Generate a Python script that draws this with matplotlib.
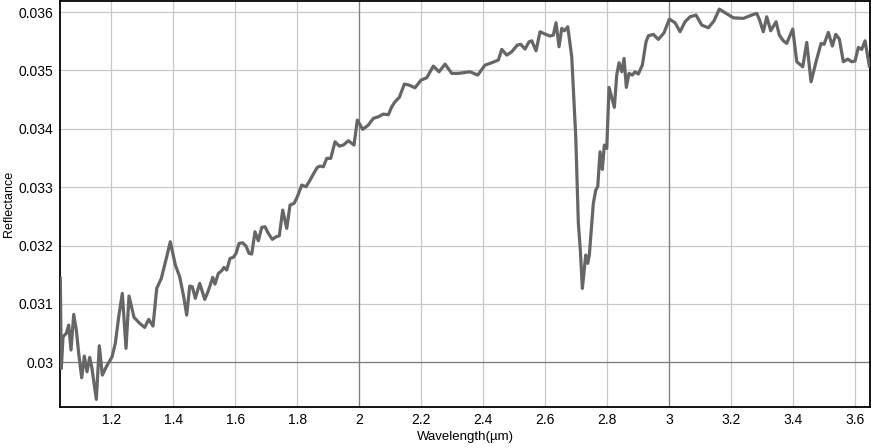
import matplotlib.pyplot as plt
from matplotlib.ticker import MultipleLocator, FuncFormatter

# spectre de réflectance
wavelength = [
    1.0355, 1.0387, 1.0442, 1.0548, 1.0626, 1.0700, 1.0787, 1.0871, 1.0948, 1.1045,
    1.1129, 1.1216, 1.1303, 1.1368, 1.1442, 1.1516, 1.1613, 1.1710, 1.1839, 1.2023,
    1.2129, 1.2239, 1.2355, 1.2474, 1.2571, 1.2732, 1.2916, 1.3077, 1.3206, 1.3345,
    1.3465, 1.3613, 1.3774, 1.3903, 1.4065, 1.4206, 1.4335, 1.4432, 1.4529, 1.4613,
    1.4710, 1.4852, 1.5013, 1.5097, 1.5184, 1.5271, 1.5345, 1.5452, 1.5561, 1.5635,
    1.5723, 1.5829, 1.5935, 1.6023, 1.6119, 1.6239, 1.6345, 1.6442, 1.6529, 1.6635,
    1.6742, 1.6852, 1.6958, 1.7065, 1.7194, 1.7313, 1.7419, 1.7529, 1.7658, 1.7765,
    1.7894, 1.8000, 1.8142, 1.8281, 1.8410, 1.8516, 1.8645, 1.8732, 1.8839, 1.8948,
    1.9077, 1.9216, 1.9355, 1.9484, 1.9645, 1.9829, 1.9935, 2.0110, 2.0290, 2.0452,
    2.0613, 2.0774, 2.0935, 2.1045, 2.1152, 2.1290, 2.1452, 2.1603, 2.1797, 2.1990,
    2.2174, 2.2387, 2.2571, 2.2765, 2.2981, 2.3194, 2.3571, 2.3819, 2.4055, 2.4271,
    2.4484, 2.4594, 2.4755, 2.4916, 2.5097, 2.5206, 2.5345, 2.5474, 2.5561, 2.5700,
    2.5829, 2.5990, 2.6152, 2.6258, 2.6345, 2.6442, 2.6529, 2.6613, 2.6723, 2.6852,
    2.6981, 2.7065, 2.7129, 2.7194, 2.7303, 2.7368, 2.7419, 2.7548, 2.7626, 2.7690,
    2.7765, 2.7839, 2.7903, 2.7981, 2.8055, 2.8226, 2.8303, 2.8377, 2.8465, 2.8539,
    2.8613, 2.8700, 2.8806, 2.8894, 2.9000, 2.9129, 2.9248, 2.9323, 2.9484, 2.9645,
    2.9829, 3.0000, 3.0184, 3.0345, 3.0506, 3.0668, 3.0861, 3.1045, 3.1258, 3.1442,
    3.1613, 3.1829, 3.2065, 3.2387, 3.2658, 3.2819, 3.2903, 3.3032, 3.3142, 3.3271,
    3.3442, 3.3548, 3.3677, 3.3787, 3.3981, 3.4110, 3.4303, 3.4432, 3.4571, 3.4732,
    3.4894, 3.4990, 3.5129, 3.5258, 3.5368, 3.5484, 3.5613, 3.5755, 3.5884, 3.5990,
    3.6097, 3.6206, 3.6313, 3.6452,
]
reflectance = [
    0.031439, 0.029897, 0.030438, 0.030497, 0.030639, 0.030211, 0.030822, 0.030553, 0.030154, 0.029736,
    0.030108, 0.029839, 0.030086, 0.029925, 0.029640, 0.029366, 0.030284, 0.029782, 0.029925, 0.030096,
    0.030325, 0.030781, 0.031182, 0.030240, 0.031136, 0.030771, 0.030668, 0.030599, 0.030736, 0.030622,
    0.031267, 0.031439, 0.031781, 0.032066, 0.031667, 0.031466, 0.031124, 0.030810, 0.031307, 0.031295,
    0.031096, 0.031353, 0.031079, 0.031182, 0.031312, 0.031456, 0.031341, 0.031524, 0.031569, 0.031627,
    0.031581, 0.031781, 0.031798, 0.031867, 0.032038, 0.032048, 0.031992, 0.031867, 0.031855, 0.032237,
    0.032083, 0.032312, 0.032323, 0.032209, 0.032107, 0.032151, 0.032168, 0.032609, 0.032295, 0.032694,
    0.032723, 0.032836, 0.033037, 0.033008, 0.033122, 0.033225, 0.033340, 0.033362, 0.033350, 0.033494,
    0.033494, 0.033778, 0.033705, 0.033722, 0.033796, 0.033722, 0.034150, 0.033991, 0.034064, 0.034179,
    0.034207, 0.034253, 0.034241, 0.034378, 0.034464, 0.034539, 0.034767, 0.034750, 0.034703, 0.034835,
    0.034875, 0.035075, 0.034977, 0.035109, 0.034950, 0.034950, 0.034977, 0.034921, 0.035092, 0.035132,
    0.035178, 0.035361, 0.035263, 0.035320, 0.035435, 0.035447, 0.035366, 0.035491, 0.035508, 0.035337,
    0.035663, 0.035623, 0.035589, 0.035606, 0.035817, 0.035406, 0.035721, 0.035680, 0.035748, 0.035234,
    0.033864, 0.032381, 0.031923, 0.031267, 0.031838, 0.031696, 0.031838, 0.032723, 0.032951, 0.033008,
    0.033607, 0.033306, 0.033722, 0.033665, 0.034710, 0.034368, 0.034921, 0.035132, 0.034977, 0.035207,
    0.034710, 0.034950, 0.034921, 0.034977, 0.034938, 0.035092, 0.035491, 0.035594, 0.035618, 0.035532,
    0.035645, 0.035880, 0.035817, 0.035663, 0.035834, 0.035920, 0.035949, 0.035777, 0.035731, 0.035851,
    0.036051, 0.035978, 0.035902, 0.035892, 0.035949, 0.035978, 0.035875, 0.035663, 0.035920, 0.035680,
    0.035834, 0.035606, 0.035508, 0.035464, 0.035709, 0.035149, 0.035063, 0.035481, 0.034806, 0.035149,
    0.035464, 0.035447, 0.035652, 0.035418, 0.035618, 0.035538, 0.035149, 0.035195, 0.035149, 0.035161,
    0.035395, 0.035361, 0.035508, 0.035075,
]

plt.rcParams['font.family'] = ['Liberation Sans', 'DejaVu Sans']

fig = plt.figure(figsize=(8.71, 4.48), dpi=100)
ax = fig.add_axes([0.0689, 0.0908, 0.93, 0.907])

ax.plot(wavelength, reflectance, color="#666666", linewidth=2.3, zorder=3)

ax.set_xlim(1.0345, 3.6474)
ax.set_ylim(0.02923, 0.03619)

ax.xaxis.set_major_locator(MultipleLocator(0.2))
ax.yaxis.set_major_locator(MultipleLocator(0.001))
ax.xaxis.set_major_formatter(FuncFormatter(lambda v, p: "%g" % round(v, 3)))
ax.yaxis.set_major_formatter(FuncFormatter(lambda v, p: "%g" % round(v, 4)))
ax.tick_params(axis="x", length=0, labelsize=10, pad=4)
ax.tick_params(axis="y", length=0, labelsize=10, pad=5)

ax.grid(True, color="#c8c8c8", linewidth=0.9)
ax.set_axisbelow(True)
# lignes entières plus foncées
for xv in [2, 3]:
    ax.axvline(xv, color="#808080", linewidth=0.9, zorder=1)
ax.axhline(0.03, color="#808080", linewidth=0.9, zorder=1)

for s in ax.spines.values():
    s.set_color("black")
    s.set_linewidth(1.3)

ax.set_xlabel("Wavelength(µm)", fontsize=9.5, labelpad=3)
ax.set_ylabel("Reflectance", fontsize=9, labelpad=2)

fig.savefig("out.png", dpi=100)
